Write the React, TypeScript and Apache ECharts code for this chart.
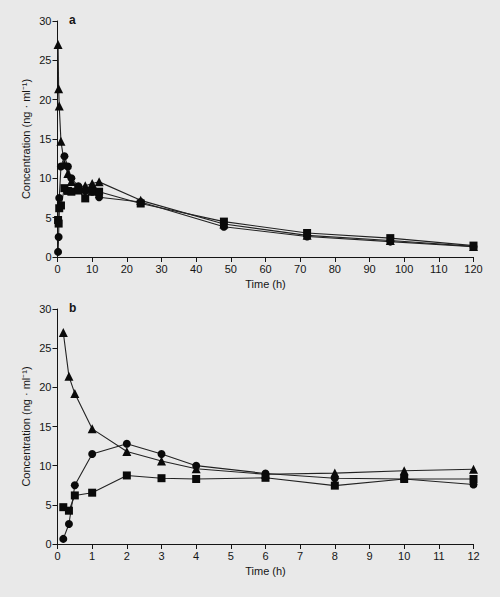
import React, { useEffect, useRef } from "react";
import * as echarts from "echarts";

// Sampling times (h)
const times = [0.167, 0.33, 0.5, 1, 2, 3, 4, 6, 8, 10, 12, 24, 48, 72, 96, 120];

// Plasma concentration (ng·ml⁻¹)
const triangleSeries = [27.0, 21.4, 19.2, 14.7, 11.8, 10.6, 9.6, 8.9, 9.05, 9.35, 9.55, 7.2, 4.2, 2.75, 2.1, 1.35];
const circleSeries = [0.65, 2.55, 7.5, 11.5, 12.8, 11.5, 10.0, 9.0, 8.4, 8.3, 7.6, 7.0, 3.85, 2.6, 1.95, 1.3];
const squareSeries = [4.7, 4.25, 6.2, 6.55, 8.75, 8.4, 8.3, 8.45, 7.45, 8.3, 8.3, 6.8, 4.5, 3.05, 2.4, 1.45];

const yTicks = { min: 0, max: 30, interval: 5 };
const panelLabels = ["a", "b"];
const xAxisTitle = "Time (h)";
const yAxisTitle = "Concentration (ng · ml⁻¹)";

const INK = "#151515";
const FONT = "Liberation Sans, Arial, Helvetica, sans-serif";

const pairs = (vals: number[], maxT: number) =>
  times.map((t, i) => [t, vals[i]]).filter((p) => p[0] <= maxT);

export default function App() {
  const ref = useRef<HTMLDivElement>(null);

  useEffect(() => {
    if (!ref.current) return;
    const chart = echarts.init(ref.current, null, { renderer: "svg" });

    const axisCommon = {
      axisLine: { show: true, lineStyle: { color: INK, width: 1 } },
      axisTick: { show: true, length: 5, inside: false, lineStyle: { color: INK, width: 1 } },
      axisLabel: { color: INK, fontSize: 11, fontFamily: FONT, margin: 6 },
      splitLine: { show: false },
      nameTextStyle: { color: INK, fontSize: 11, fontFamily: FONT },
      nameMoveOverlap: false,
    };

    const grids = [
      { left: 57.5, top: 21, width: 416, height: 236 },
      { left: 57.5, top: 309, width: 416, height: 235 },
    ];

    const xAxes = [
      { gridIndex: 0, type: "value", min: 0, max: 120, interval: 10, name: xAxisTitle, nameLocation: "middle", nameGap: 21, ...axisCommon },
      { gridIndex: 1, type: "value", min: 0, max: 12, interval: 1, name: xAxisTitle, nameLocation: "middle", nameGap: 21, ...axisCommon },
    ];
    const yAxes = [0, 1].map((g) => ({
      gridIndex: g,
      type: "value",
      ...yTicks,
      name: yAxisTitle,
      nameLocation: "middle",
      nameGap: 26,
      ...axisCommon,
    }));

    const defs = [
      { name: "triangle", data: triangleSeries, symbol: "triangle", size: 9 },
      { name: "circle", data: circleSeries, symbol: "circle", size: 8 },
      { name: "square", data: squareSeries, symbol: "rect", size: 8 },
    ];

    const series: any[] = [];
    [120, 12].forEach((maxT, g) => {
      defs.forEach((d) => {
        series.push({
          type: "line",
          name: d.name,
          xAxisIndex: g,
          yAxisIndex: g,
          data: pairs(d.data, maxT),
          symbol: d.symbol,
          symbolSize: d.size,
          showSymbol: true,
          itemStyle: { color: "#0a0a0a" },
          lineStyle: { color: "#222", width: 1.1 },
          emphasis: { disabled: true },
        });
      });
    });

    chart.setOption({
      animation: false,
      backgroundColor: "#e9e9e9",
      grid: grids,
      xAxis: xAxes,
      yAxis: yAxes,
      series,
      graphic: panelLabels.map((lbl, i) => ({
        type: "text",
        left: 69,
        top: grids[i].top - 7,
        style: { text: lbl, fill: INK, font: `bold 12px ${FONT}` },
      })),
    });

    return () => chart.dispose();
  }, []);

  return (
    <div
      ref={ref}
      style={{ position: "fixed", left: 0, top: 0, width: 500, height: 597 }}
    />
  );
}
